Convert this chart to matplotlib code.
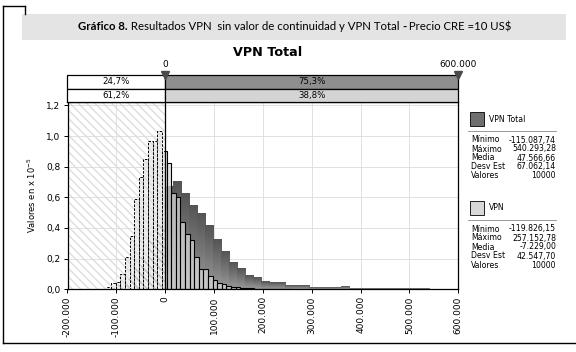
import numpy as np
import matplotlib
matplotlib.use("Agg")
import matplotlib.pyplot as plt
from matplotlib.patches import Rectangle
from matplotlib.lines import Line2D
from matplotlib.colors import LinearSegmentedColormap

# histogram data (values en x 10^-5), 40 bins between min and max of each series
vpn_total_min = -115087.74
vpn_total_max = 540293.28
vpn_total_heights = [0.01, 0.03, 0.07, 0.13, 0.21, 0.33, 0.42,
                     0.667, 0.704, 0.624, 0.548, 0.49, 0.417, 0.324, 0.243, 0.176,
                     0.137, 0.09, 0.078, 0.052, 0.04, 0.04, 0.02, 0.02, 0.026, 0.013,
                     0.013, 0.01, 0.01, 0.015, 0.005, 0.005, 0.005, 0.005, 0.005,
                     0.005, 0.005, 0.005, 0.005, 0.005]

vpn_min = -119826.15
vpn_max = 257152.78
vpn_heights = [0.015, 0.04, 0.05, 0.10, 0.21, 0.35, 0.59, 0.73, 0.85, 0.965,
               0.97, 1.03, 0.905, 0.824, 0.626, 0.60, 0.44, 0.36, 0.32, 0.21,
               0.13, 0.13, 0.085, 0.063, 0.04, 0.035, 0.024, 0.012, 0.012, 0.01,
               0.006, 0.01, 0.005, 0.004, 0.003, 0.003, 0.002, 0.002, 0.002, 0.002]

pct_total = ["24,7%", "75,3%"]
pct_vpn = ["61,2%", "38,8%"]
range_lo = 0
range_hi = 600000

stats_labels = ["Mínimo", "Máximo", "Media", "Desv Est", "Valores"]
stats_total = ["-115.087,74", "540.293,28", "47.566,66", "67.062,14", "10000"]
stats_vpn = ["-119.826,15", "257.152,78", "-7.229,00", "42.547,70", "10000"]

x_ticks = [-200000, -100000, 0, 100000, 200000, 300000, 400000, 500000, 600000]
y_ticks = [0.0, 0.2, 0.4, 0.6, 0.8, 1.0, 1.2]

W, H = 576, 352


def fx(px):
    return px / W


def fy(py):
    return 1 - py / H


fig = plt.figure(figsize=(5.76, 3.52), dpi=100)
fig.patch.set_facecolor("white")

# page frame
fig.add_artist(Line2D([fx(3), fx(3)], [fy(6), fy(343)], color="black", lw=1.0))
fig.add_artist(Line2D([fx(3), fx(25)], [fy(6), fy(6)], color="black", lw=1.0))
fig.add_artist(Line2D([fx(25), fx(25)], [fy(6), fy(14)], color="black", lw=1.0))
fig.add_artist(Line2D([fx(3), fx(576)], [fy(343), fy(343)], color="black", lw=1.0))

# title band
fig.add_artist(Rectangle((fx(22), fy(40)), fx(566) - fx(22), fy(14) - fy(40),
                         transform=fig.transFigure, facecolor="#e4e4e4", edgecolor="none"))
pieces = [("Gráfico 8.", "bold"), (" Resultados VPN  sin valor de continuidad y VPN Total ", "normal"),
          ("-", "bold"), (" Precio CRE =10 US$", "normal")]
renderer = fig.canvas.get_renderer()
texts = []
for s, w in pieces:
    t = fig.text(0, fy(27), s, fontsize=8.2, fontweight=w, family="Lato", va="center", ha="left")
    texts.append(t)
widths = [t.get_window_extent(renderer).width / W for t in texts]
x = fx(295) - sum(widths) / 2
for t, w in zip(texts, widths):
    t.set_x(x)
    x += w

fig.text(fx(268), fy(52), "VPN Total", fontsize=9.2, fontweight="bold",
         family=["Liberation Sans Narrow", "DejaVu Sans"], ha="center", va="center")

left, right = fx(67.5), fx(458.3)
ax = fig.add_axes([left, fy(289.3), right - left, fy(102) - fy(289.3)])
ax_top = fig.add_axes([left, fy(102), right - left, fy(75) - fy(102)])

# main histogram
ax.set_xlim(-200000, 600000)
ax.set_ylim(0, 1.222)
ax.axvspan(-200000, 0, facecolor="white", edgecolor="#dedede", hatch="\\\\\\\\", lw=0, zorder=0)
ax.grid(True, color="#dcdcdc", lw=0.6, zorder=0.5)
ax.set_axisbelow(True)

edges_t = np.linspace(vpn_total_min, vpn_total_max, len(vpn_total_heights) + 1)
cmap = LinearSegmentedColormap.from_list("g", ["#9a9a9a", "#555555"])
grad = np.linspace(0, 1, 64).reshape(-1, 1)
for x0, x1, h in zip(edges_t[:-1], edges_t[1:], vpn_total_heights):
    if x1 <= 0:
        ax.bar(x0, h, width=x1 - x0, align="edge", facecolor="none", edgecolor="#999999",
               hatch="\\\\\\\\", lw=0, zorder=1)
    else:
        ax.imshow(grad, extent=(x0, x1, 0, h), cmap=cmap, aspect="auto", origin="lower",
                  zorder=1, interpolation="bilinear")

edges_v = np.linspace(vpn_min, vpn_max, len(vpn_heights) + 1)
for x0, x1, h in zip(edges_v[:-1], edges_v[1:], vpn_heights):
    if x0 < 0:
        ax.add_patch(Rectangle((x0, 0), min(x1, 0) - x0, h, facecolor=(0.88, 0.88, 0.88, 0.6),
                               edgecolor="black", ls=(0, (2.5, 1.5)), lw=0.7, zorder=2))
    if x1 > 0:
        ax.add_patch(Rectangle((max(x0, 0), 0), x1 - max(x0, 0), h, facecolor=(0.85, 0.85, 0.85, 0.72),
                               edgecolor="black", lw=0.8, zorder=2))

ax.axvline(0, color="black", lw=0.9, zorder=3)
ax.set_xlim(-200000, 600000)
ax.set_ylim(0, 1.222)
ax.set_xticks(x_ticks)
ax.set_xticklabels([f"{v:,.0f}".replace(",", ".") for v in x_ticks], rotation=90)
ax.set_yticks(y_ticks)
ax.set_yticklabels([f"{v:.1f}".replace(".", ",") for v in y_ticks])
ax.tick_params(labelsize=6.5, length=3, width=0.7, direction="out", pad=2)
for sp in ax.spines.values():
    sp.set_linewidth(0.9)
ax.set_ylabel(r"Valores en x 10$^{-5}$", fontsize=6, labelpad=6)

# percentage bars above the chart
ax_top.set_xlim(-200000, 600000)
ax_top.set_ylim(0, 2)
ax_top.axis("off")
rows = [(1, pct_total, "#8e8e8e"), (0, pct_vpn, "#d4d4d4")]
for y0, pcts, col in rows:
    ax_top.add_patch(Rectangle((-200000, y0), range_lo + 200000, 1, facecolor="white",
                               edgecolor="black", lw=0.9, clip_on=False))
    ax_top.add_patch(Rectangle((range_lo, y0), range_hi - range_lo, 1, facecolor=col,
                               edgecolor="black", lw=0.9, clip_on=False))
    ax_top.text(-100000, y0 + 0.5, pcts[0], ha="center", va="center", fontsize=6.2)
    ax_top.text((range_lo + range_hi) / 2, y0 + 0.5, pcts[1], ha="center", va="center", fontsize=6.2)
ax_top.plot([range_lo, range_hi], [2, 2], ls="none", marker="v", ms=5.5, color="#4a4a4a",
            clip_on=False, zorder=5)
for v in [range_lo, range_hi]:
    ax_top.annotate(f"{v:,.0f}".replace(",", "."), (v, 2), xytext=(0, 4), textcoords="offset points",
                    ha="center", va="bottom", fontsize=6.5)

# right-hand statistics panel
blocks = [(112, "VPN Total", stats_total, "#6e6e6e"), (201, "VPN", stats_vpn, "#d8d8d8")]
for top, name, vals, col in blocks:
    fig.add_artist(Rectangle((fx(470), fy(top + 14)), fx(484) - fx(470), fy(top) - fy(top + 14),
                             transform=fig.transFigure, facecolor=col, edgecolor="black", lw=0.6))
    fig.text(fx(489), fy(top + 7), name, fontsize=5.6, va="center", ha="left")
    fig.add_artist(Line2D([fx(468), fx(556)], [fy(top + 19), fy(top + 19)], color="#888888", lw=0.6))
    for i, (lab, val) in enumerate(zip(stats_labels, vals)):
        yy = fy(top + 28 + i * 9)
        fig.text(fx(471), yy, lab, fontsize=5.6, va="center", ha="left")
        fig.text(fx(556), yy, val, fontsize=5.6, va="center", ha="right")

fig.savefig("out.png", dpi=100)
